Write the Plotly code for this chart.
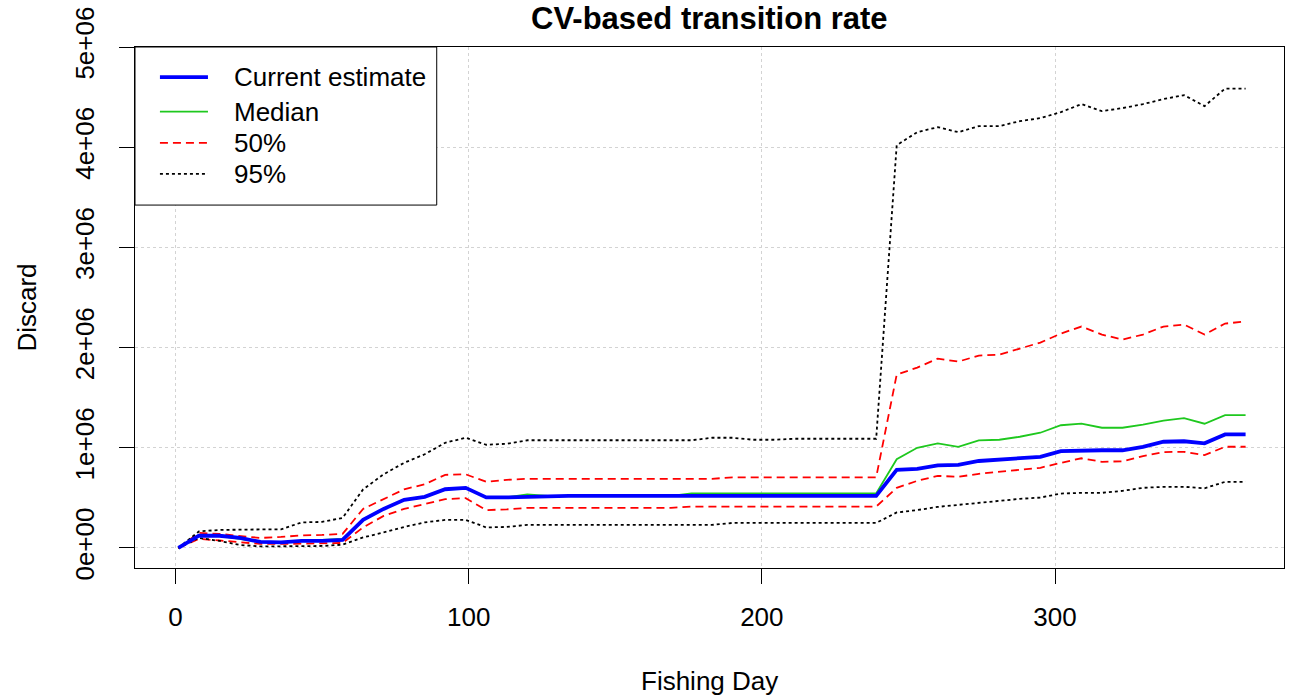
import plotly.graph_objects as go

# Fishing days sampled weekly through the season
days = [1 + 7 * k for k in range(53)]

# Discard estimates (millions)
current = [0.0, 0.122, 0.122, 0.10, 0.06, 0.056, 0.07, 0.07, 0.08, 0.28,
           0.39, 0.48, 0.51, 0.586, 0.60, 0.505, 0.505, 0.51, 0.52, 0.52,
           0.52, 0.52, 0.52, 0.52, 0.52, 0.52, 0.52, 0.52, 0.52, 0.52,
           0.52, 0.52, 0.52, 0.52, 0.52, 0.78, 0.79, 0.825, 0.83, 0.868,
           0.88, 0.895, 0.91, 0.967, 0.975, 0.975, 0.975, 1.01, 1.06, 1.065,
           1.044, 1.133, 1.133]
median = [0.0, 0.122, 0.122, 0.09, 0.06, 0.056, 0.07, 0.08, 0.09, 0.28,
          0.39, 0.48, 0.51, 0.586, 0.60, 0.505, 0.505, 0.535, 0.52, 0.52,
          0.52, 0.52, 0.52, 0.52, 0.52, 0.545, 0.545, 0.545, 0.545, 0.545,
          0.545, 0.545, 0.545, 0.545, 0.545, 0.885, 1.00, 1.044, 1.01, 1.074,
          1.08, 1.11, 1.15, 1.225, 1.24, 1.20, 1.20, 1.23, 1.27, 1.295,
          1.24, 1.325, 1.325]
upper50 = [0.0, 0.15, 0.14, 0.122, 0.10, 0.11, 0.125, 0.13, 0.14, 0.39,
           0.49, 0.585, 0.636, 0.73, 0.735, 0.66, 0.68, 0.69, 0.69, 0.69,
           0.69, 0.69, 0.69, 0.69, 0.69, 0.69, 0.69, 0.705, 0.705, 0.705,
           0.705, 0.705, 0.705, 0.705, 0.705, 1.73, 1.80, 1.89, 1.86, 1.92,
           1.93, 1.99, 2.05, 2.14, 2.21, 2.13, 2.08, 2.13, 2.21, 2.23,
           2.13, 2.24, 2.26]
lower50 = [0.0, 0.09, 0.075, 0.056, 0.04, 0.04, 0.045, 0.045, 0.05, 0.205,
           0.32, 0.39, 0.437, 0.487, 0.497, 0.378, 0.385, 0.40, 0.40, 0.40,
           0.40, 0.40, 0.40, 0.40, 0.40, 0.413, 0.413, 0.413, 0.413, 0.413,
           0.413, 0.413, 0.413, 0.413, 0.413, 0.60, 0.67, 0.72, 0.71, 0.74,
           0.76, 0.78, 0.80, 0.85, 0.895, 0.86, 0.865, 0.917, 0.957, 0.96,
           0.927, 1.01, 1.01]
upper95 = [0.0, 0.165, 0.18, 0.185, 0.185, 0.185, 0.255, 0.26, 0.30, 0.585,
           0.735, 0.85, 0.935, 1.05, 1.10, 1.03, 1.04, 1.075, 1.075, 1.075,
           1.075, 1.075, 1.075, 1.075, 1.075, 1.075, 1.10, 1.10, 1.08, 1.08,
           1.09, 1.09, 1.09, 1.09, 1.09, 4.02, 4.15, 4.20, 4.15, 4.21,
           4.21, 4.26, 4.29, 4.35, 4.43, 4.36, 4.39, 4.43, 4.48, 4.52,
           4.41, 4.585, 4.585]
lower95 = [0.0, 0.10, 0.07, 0.03, 0.015, 0.015, 0.02, 0.02, 0.033, 0.105,
           0.155, 0.21, 0.255, 0.28, 0.28, 0.205, 0.21, 0.23, 0.23, 0.23,
           0.23, 0.23, 0.23, 0.23, 0.23, 0.23, 0.23, 0.25, 0.25, 0.25,
           0.25, 0.25, 0.25, 0.25, 0.25, 0.354, 0.378, 0.41, 0.43, 0.453,
           0.477, 0.49, 0.503, 0.543, 0.55, 0.55, 0.57, 0.60, 0.61, 0.61,
           0.596, 0.66, 0.66]

x_ticks = [0, 100, 200, 300]
y_ticks = [0, 1e6, 2e6, 3e6, 4e6, 5e6]
y_tick_labels = ["0e+00", "1e+06", "2e+06", "3e+06", "4e+06", "5e+06"]
legend_labels = ["Current estimate", "Median", "50%", "95%"]

FONT = "Liberation Sans, Arial, sans-serif"
BLUE, GREEN, RED, BLACK = "#0000ff", "#1ec81e", "#ff0000", "#000000"
DASH50, DOT95 = "8px,5px", "3px,3px"


def scaled(vals):
    return [v * 1e6 for v in vals]


fig = go.Figure()
line_specs = [
    (median, dict(color=GREEN, width=1.8)),
    (upper50, dict(color=RED, width=1.8, dash=DASH50)),
    (lower50, dict(color=RED, width=1.8, dash=DASH50)),
    (upper95, dict(color=BLACK, width=1.8, dash=DOT95)),
    (lower95, dict(color=BLACK, width=1.8, dash=DOT95)),
    (current, dict(color=BLUE, width=3.8)),
]
for vals, ln in line_specs:
    fig.add_trace(go.Scatter(x=days, y=scaled(vals), mode="lines", line=ln,
                             showlegend=False, hoverinfo="skip"))

axis_common = dict(
    showline=True, linecolor="black", linewidth=1, mirror=True,
    ticks="outside", ticklen=15, tickcolor="black", tickwidth=1,
    showgrid=True, gridcolor="#d3d3d3", griddash="dot", gridwidth=1,
    zeroline=False, tickfont=dict(family=FONT, size=26, color="black"),
)
fig.update_xaxes(range=[-13.8, 378.1], tickvals=x_ticks,
                 ticklabelstandoff=11, **axis_common)
fig.update_yaxes(range=[-0.2e6, 5.0e6], tickvals=y_ticks, ticktext=y_tick_labels,
                 tickangle=-90, ticklabelstandoff=15, **axis_common)

# Legend box drawn in paper coordinates
shapes = [dict(type="rect", xref="paper", yref="paper", x0=0, x1=0.2626,
               y0=0.6966, y1=1, fillcolor="white", line=dict(color="black", width=1),
               layer="above")]
legend_rows = [0.9422, 0.876, 0.8158, 0.7563]
legend_styles = [dict(color=BLUE, width=3.8), dict(color=GREEN, width=1.8),
                 dict(color=RED, width=1.8, dash=DASH50),
                 dict(color=BLACK, width=1.8, dash=DOT95)]
annotations = []
for row, style, label in zip(legend_rows, legend_styles, legend_labels):
    shapes.append(dict(type="line", xref="paper", yref="paper", x0=0.0217, x1=0.0635,
                       y0=row, y1=row, line=style, layer="above"))
    annotations.append(dict(xref="paper", yref="paper", x=0.0843, y=row, text=label,
                            xanchor="left", yanchor="middle", showarrow=False,
                            font=dict(family=FONT, size=26, color="black")))

annotations += [
    dict(xref="paper", yref="paper", x=0.5, y=1.054, text="<b>CV-based transition rate</b>",
         xanchor="center", yanchor="middle", showarrow=False,
         font=dict(family=FONT, size=31, color="black")),
    dict(xref="paper", yref="paper", x=0.5, y=-0.2176, text="Fishing Day",
         xanchor="center", yanchor="middle", showarrow=False,
         font=dict(family=FONT, size=26, color="black")),
    dict(xref="paper", yref="paper", x=-0.0948, y=0.5, text="Discard", textangle=-90,
         xanchor="center", yanchor="middle", showarrow=False,
         font=dict(family=FONT, size=26, color="black")),
]

fig.update_layout(
    width=1292, height=700,
    margin=dict(l=135, r=7, t=44, b=132),
    paper_bgcolor="white", plot_bgcolor="white",
    shapes=shapes, annotations=annotations,
)

fig.write_html("out.html")
